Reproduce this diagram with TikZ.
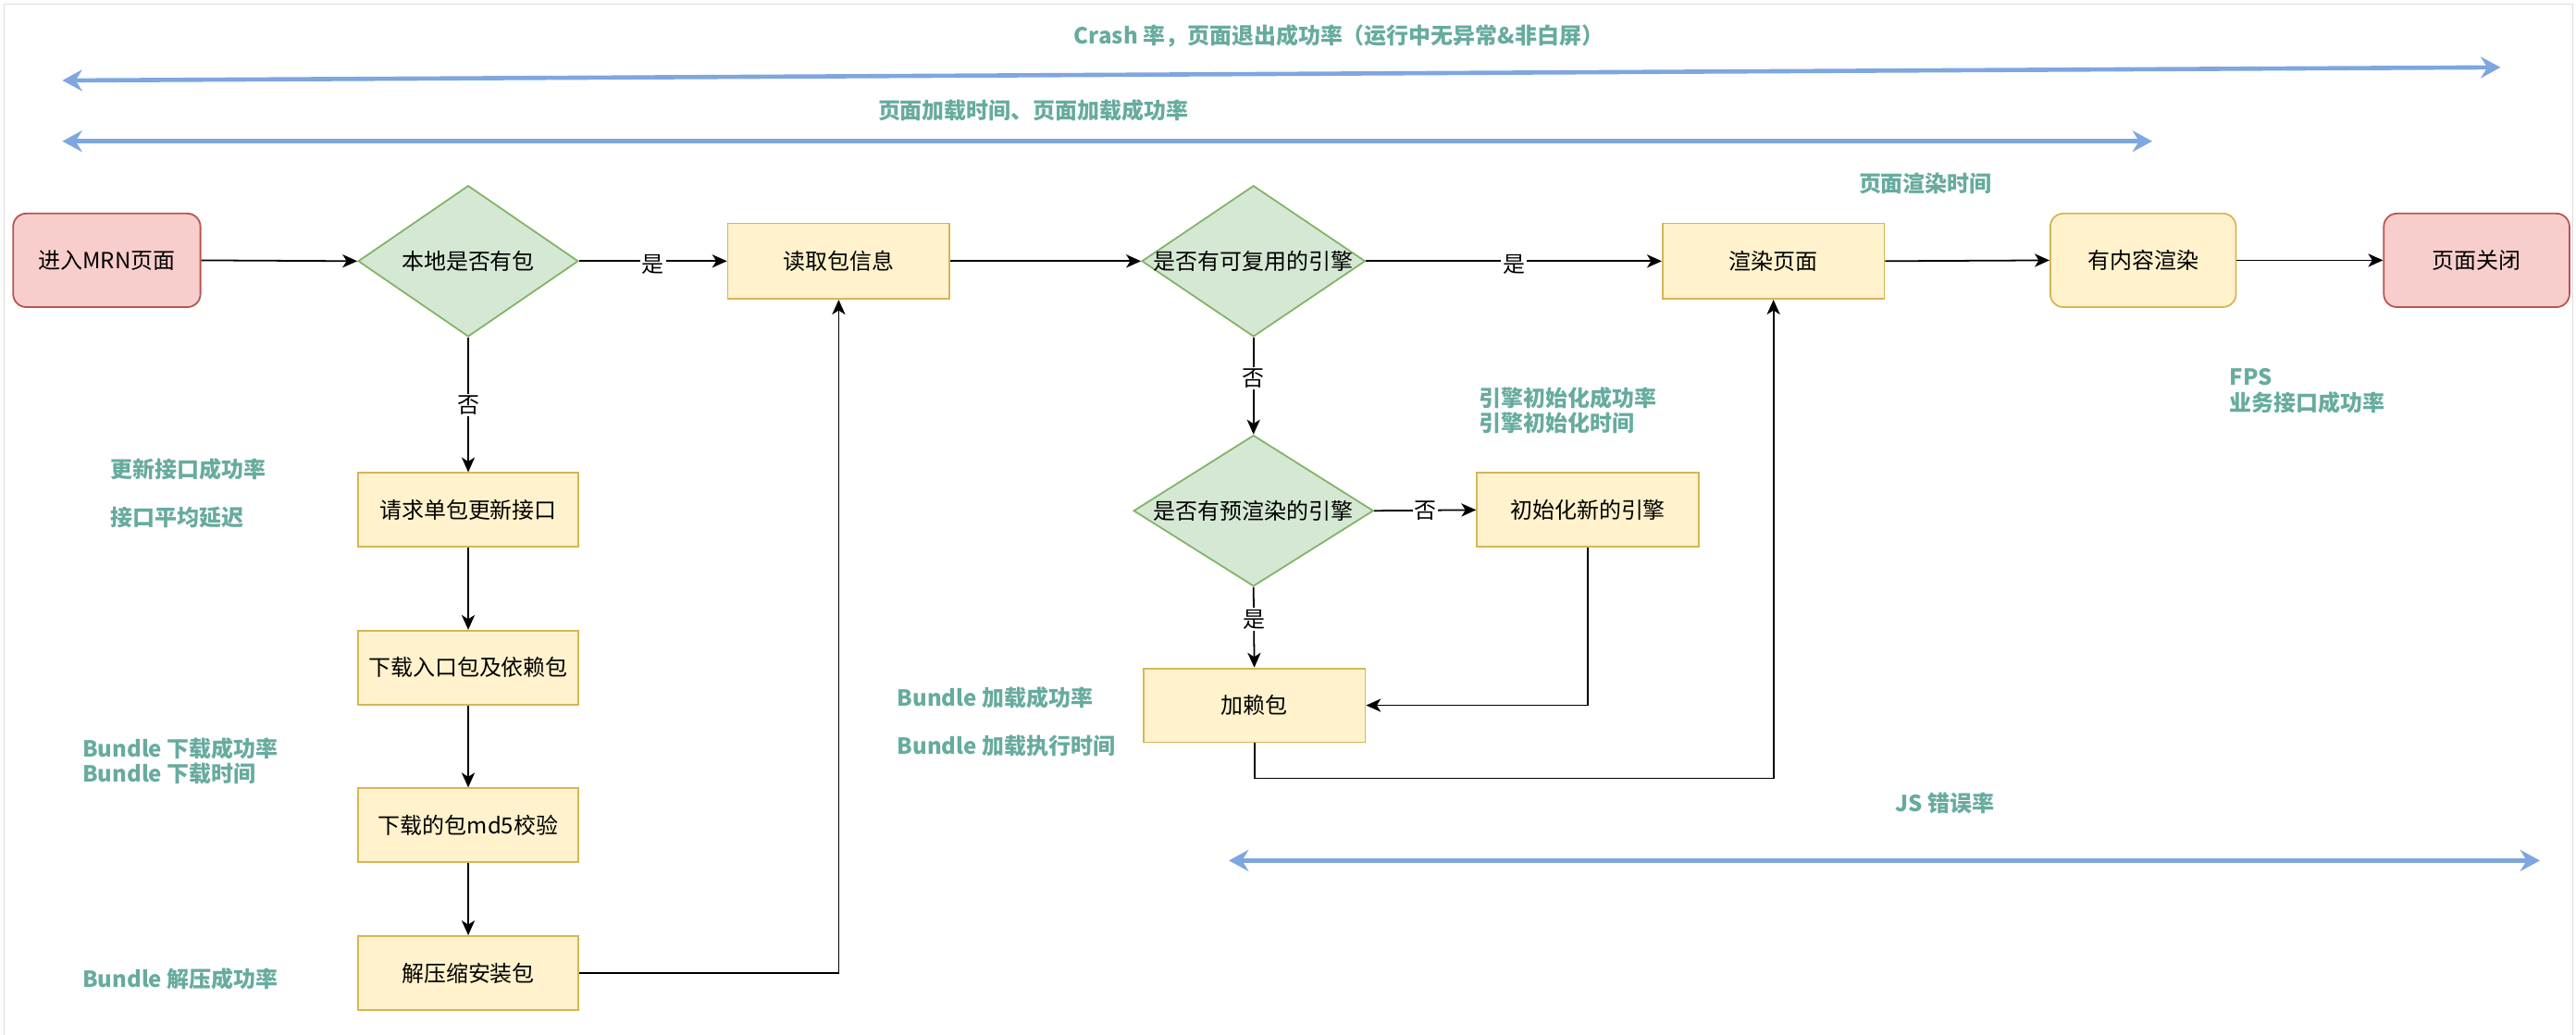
\documentclass[tikz,border=0pt]{standalone}
\usepackage{fontspec}
\setmainfont{Noto Sans CJK SC}
\usetikzlibrary{arrows.meta,shapes.geometric}
\definecolor{pinkF}{HTML}{F8CECC}
\definecolor{pinkD}{HTML}{B85450}
\definecolor{yelF}{HTML}{FFF2CC}
\definecolor{yelD}{HTML}{D6B656}
\definecolor{grnF}{HTML}{D5E8D4}
\definecolor{grnD}{HTML}{82B366}
\definecolor{metric}{HTML}{67AB9F}
\definecolor{blueA}{HTML}{7EA6E0}
\definecolor{frameC}{HTML}{DDDDDD}
\begin{document}
\begin{tikzpicture}[x=1pt,y=-1pt,
  nodefont/.style={font=\fontsize{13.5}{16}\selectfont},
  proc/.style={rectangle, draw=yelD, fill=yelF, line width=1pt, minimum width=135pt, minimum height=46pt, inner sep=0pt, nodefont},
  termP/.style={rectangle, rounded corners=8pt, draw=pinkD, fill=pinkF, line width=1pt, minimum width=114pt, minimum height=57pt, inner sep=0pt, nodefont},
  termY/.style={rectangle, rounded corners=8pt, draw=yelD, fill=yelF, line width=1pt, minimum width=113pt, minimum height=57pt, inner sep=0pt, nodefont},
  dec/.style={diamond, draw=grnD, fill=grnF, line width=1pt, inner sep=0pt},
  dtext/.style={nodefont, inner sep=0pt},
  flow/.style={draw=black, line width=1pt, -{Stealth[length=9pt,width=8pt,inset=2.5pt]}},
  elabel/.style={fill=white, inner sep=1pt, nodefont},
  metricT/.style={text=metric, font=\fontsize{13.5}{15.5}\selectfont\bfseries, inner sep=0pt, align=left},
  span/.style={draw=blueA, line width=2.6pt, {Stealth[length=12pt,width=13pt,inset=4pt]}-{Stealth[length=12pt,width=13pt,inset=4pt]}}
]
\useasboundingbox (0,0) rectangle (1568,630);
\draw[frameC, line width=1pt] (2.5,630) -- (2.5,2.5) -- (1566,2.5) -- (1566,630);

% main row
\node[termP] (n1) at (65,158.5) {进入MRN页面};
\node[dec, minimum width=134pt, minimum height=92pt] (d1) at (285,159) {};
\node[dtext] (t1) at (d1.center) {本地是否有包};
\node[proc] (n2) at (510.5,159) {读取包信息};
\node[dec, minimum width=136pt, minimum height=92pt] (d2) at (763,159) {};
\node[dtext] (t2) at (d2.center) {是否有可复用的引擎};
\node[proc] (n3) at (1079.5,159) {渲染页面};
\node[termY] (n4) at (1304.5,158.5) {有内容渲染};
\node[termP, minimum width=113pt] (n5) at (1507.5,158.5) {页面关闭};

% left column
\node[proc, minimum width=134pt, minimum height=45pt] (s1) at (285,310.5) {请求单包更新接口};
\node[proc, minimum width=134pt, minimum height=45pt] (s2) at (285,406.5) {下载入口包及依赖包};
\node[proc, minimum width=134pt, minimum height=45pt] (s3) at (285,502.5) {下载的包md5校验};
\node[proc, minimum width=134pt, minimum height=45pt] (s4) at (285,592.5) {解压缩安装包};

% middle column
\node[dec, minimum width=146pt, minimum height=92pt] (d3) at (763,311) {};
\node[dtext] (t3) at (d3.center) {是否有预渲染的引擎};
\node[proc, minimum height=45pt] (e1) at (966.5,310.5) {初始化新的引擎};
\node[proc, minimum height=45pt] (e2) at (763.5,429.5) {加赖包};
\coordinate (c1) at (763.5,474);

% connectors
\draw[flow] (n1.east) -- (d1.west);
\draw[flow] (d1.east) -- node[elabel, yshift=-2pt] {是} (n2.west);
\draw[flow] (n2.east) -- (d2.west);
\draw[flow] (d2.east) -- node[elabel, yshift=-2pt] {是} (n3.west);
\draw[flow] (n3.east) -- (n4.west);
\draw[flow] (n4.east) -- (n5.west);
\draw[flow] (d1.south) -- node[elabel] {否} (s1.north);
\draw[flow] (s1.south) -- (s2.north);
\draw[flow] (s2.south) -- (s3.north);
\draw[flow] (s3.south) -- (s4.north);
\draw[flow] (s4.east) -| (n2.south);
\draw[flow] (d2.south) -- node[elabel, pos=0.42] {否} (d3.north);
\draw[flow] (d3.east) -- node[elabel] {否} (e1.west);
\draw[flow] (d3.south) -- node[elabel, pos=0.4] {是} (e2.north);
\draw[flow] (e1.south) |- (e2.east);
\draw[flow] (e2.south) -- (c1) -| (n3.south);

% span arrows
\coordinate (a1l) at (38,49);
\coordinate (a1r) at (1522,41);
\coordinate (a2l) at (38,86);
\coordinate (a2r) at (1310,86);
\coordinate (a3l) at (748,524);
\coordinate (a3r) at (1546,524);
\draw[span] (a1l) -- (a1r);
\draw[span] (a2l) -- (a2r);
\draw[span] (a3l) -- (a3r);

% metric labels
\node[metricT] (m1) at (815,22) {Crash 率，页面退出成功率（运行中无异常\&非白屏）};
\node[metricT] (m2) at (629,67) {页面加载时间、页面加载成功率};
\node[metricT] (m3) at (1172,112) {页面渲染时间};
\node[metricT, anchor=west] (m4) at (67,286) {更新接口成功率};
\node[metricT, anchor=west] (m5) at (67,315) {接口平均延迟};
\node[metricT, anchor=west] (m6) at (50,463.5) {Bundle 下载成功率\\Bundle 下载时间};
\node[metricT, anchor=west] (m7) at (50,596) {Bundle 解压成功率};
\node[metricT, anchor=west] (m8) at (546,425) {Bundle 加载成功率};
\node[metricT, anchor=west] (m9) at (546,454) {Bundle 加载执行时间};
\node[metricT, anchor=west] (m10) at (900,250) {引擎初始化成功率\\引擎初始化时间};
\node[metricT, anchor=west] (m11) at (1357,238) {FPS\\业务接口成功率};
\node[metricT] (m12) at (1184,489) {JS 错误率};
\end{tikzpicture}
\end{document}
